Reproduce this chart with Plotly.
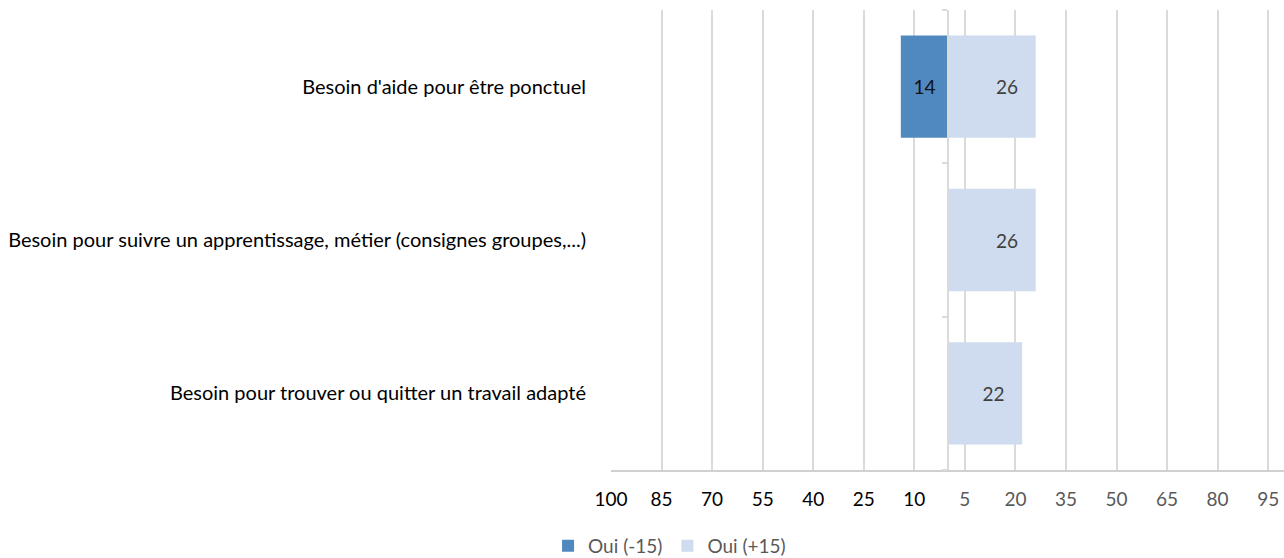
import plotly.graph_objects as go

categories = [
    "Besoin pour trouver ou quitter un travail adapté",
    "Besoin pour suivre un apprentissage, métier (consignes groupes,...)",
    "Besoin d'aide pour être ponctuel",
]
oui_moins15 = [None, None, 14]
oui_plus15 = [22, 26, 26]
tick_values = list(range(-100, 100, 15))

DARK = "#5088C0"
LIGHT = "#CFDBEE"
GRID = "#DADADA"
FONT = "Lato"

fig = go.Figure()
fig.add_trace(go.Bar(
    name="Oui (-15)", y=categories,
    x=[-v if v is not None else None for v in oui_moins15],
    orientation="h", marker=dict(color=DARK, line=dict(width=0)),
    text=[str(v) if v is not None else "" for v in oui_moins15],
    textposition="inside", insidetextanchor="middle",
    insidetextfont=dict(family=FONT, size=19, color="#111111"),
    width=0.667, hoverinfo="skip",
))
fig.add_trace(go.Bar(
    name="Oui (+15)", y=categories, x=oui_plus15,
    orientation="h", marker=dict(color=LIGHT, line=dict(width=0)),
    text=[f"{v}\u00a0\u00a0\u00a0" for v in oui_plus15],
    textposition="inside", insidetextanchor="end",
    insidetextfont=dict(family=FONT, size=19, color="#404040"),
    width=0.667, hoverinfo="skip",
))

tick_text = [
    (f"<span style='color:#000000'>{abs(v)}</span>" if v < 0 else f"<span style='color:#595959'>{v}</span>")
    for v in tick_values
]

fig.update_layout(
    width=1284, height=558,
    margin=dict(l=611, r=0, t=10, b=88, autoexpand=False),
    paper_bgcolor="white", plot_bgcolor="white",
    barmode="relative",
    font=dict(family=FONT, size=19, color="#000000"),
    showlegend=True,
    legend=dict(orientation="h", x=0.087, xanchor="center", y=-0.165, yanchor="middle",
                font=dict(family=FONT, size=19, color="#595959"), itemwidth=30,
                traceorder="normal"),
    xaxis=dict(range=[-100, 99.7], tickmode="array", tickvals=tick_values, ticktext=tick_text,
               showgrid=True, gridcolor=GRID, gridwidth=2, showline=True, linecolor="#D0D0D0",
               linewidth=2, zeroline=False, ticks="", ticklabelstandoff=11, automargin=False,
               tickfont=dict(family=FONT, size=19)),
    yaxis=dict(type="category", categoryorder="array", categoryarray=categories,
               range=[-0.5, 2.5], anchor="free", position=100 / 199.7,
               showline=True, linecolor=GRID, linewidth=2, showgrid=False,
               ticks="outside", tickson="boundaries", ticklen=5, tickcolor=GRID, tickwidth=2,
               ticklabelstandoff=357, automargin=False,
               tickfont=dict(family=FONT, size=20, color="#000000")),
)

fig.write_html(
    "out.html",
    config={"displayModeBar": False},
    post_script="document.body.style.margin='0';document.body.style.overflow='hidden';",
)
